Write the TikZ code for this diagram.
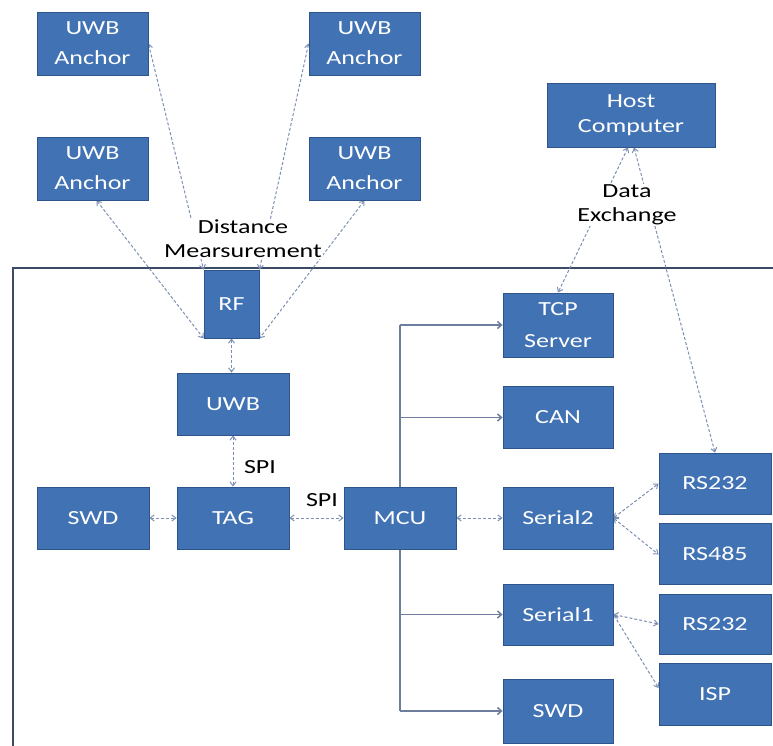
\documentclass[tikz,border=0pt]{standalone}
\usepackage{fontspec}
\newfontfamily\cf[FakeStretch=1.3]{Carlito}
\usetikzlibrary{arrows.meta,backgrounds,calc}
\definecolor{boxblue}{RGB}{64,114,180}
\definecolor{boxedge}{RGB}{45,85,140}
\definecolor{conn}{RGB}{125,144,180}
\definecolor{busc}{RGB}{110,125,155}
\definecolor{framec}{RGB}{60,75,100}
\begin{document}
\begin{tikzpicture}[x=1pt,y=-1pt,
 blk/.style={draw=boxedge,line width=0.8pt,fill=boxblue,text=white,inner sep=0pt,align=center,font=\cf\fontsize{20}{30}\selectfont},
 wh/.style 2 args={minimum width=#1pt,minimum height=#2pt},
 lbl/.style={fill=white,inner sep=1pt,align=center,text=black,font=\cf\fontsize{20}{24}\selectfont},
 dl/.style={conn,line width=1pt,dash pattern=on 3pt off 2pt,{Straight Barb[length=4pt,width=6pt]}-{Straight Barb[length=4pt,width=6pt]}},
 bl/.style={busc,line width=1.5pt},
 ba/.style={bl,-{Straight Barb[length=4pt,width=7pt]}}]
\useasboundingbox (0,0) rectangle (773,746);

% anchors
\node[blk,wh={111}{63}] (A1) at (92.5,43.5) {UWB\\Anchor};
\node[blk,wh={111}{63}] (A2) at (364.5,43.5) {UWB\\Anchor};
\node[blk,wh={111}{63}] (A3) at (92.5,168.5) {UWB\\Anchor};
\node[blk,wh={111}{63}] (A4) at (364.5,168.5) {UWB\\Anchor};
\node[blk,wh={168}{64},font=\cf\fontsize{20}{25}\selectfont] (H) at (631,115) {Host\\Computer};

% tag side
\node[blk,wh={55}{68}] (RF) at (231.5,304) {RF};
\node[blk,wh={112}{62}] (UWB) at (233,404) {UWB};
\node[blk,wh={112}{62}] (TAG) at (233,518) {TAG};
\node[blk,wh={112}{62}] (SWDL) at (93,518) {SWD};
\node[blk,wh={112}{62}] (MCU) at (400,518) {MCU};

% right column
\node[blk,wh={110}{64},font=\cf\fontsize{20}{32}\selectfont] (TCP) at (558,325) {TCP\\Server};
\node[blk,wh={110}{62}] (CAN) at (558,417.5) {CAN};
\node[blk,wh={110}{62}] (S2) at (558,518) {Serial2};
\node[blk,wh={110}{61}] (S1) at (558,614.5) {Serial1};
\node[blk,wh={110}{64}] (SWDR) at (558,711) {SWD};

\node[blk,wh={112}{61}] (R1) at (715,483.5) {RS232};
\node[blk,wh={112}{61}] (R4) at (715,553.5) {RS485};
\node[blk,wh={112}{60}] (R2) at (715,624) {RS232};
\node[blk,wh={112}{62}] (ISP) at (715,694) {ISP};

\begin{scope}[on background layer]
  \fill[white] (0,0) rectangle (773,746);
  \draw[framec,line width=1.8pt] (13,746) -- (13,268) -- (773,268);
  % bus
  \coordinate (bt) at (MCU.center |- TCP.west);
  \coordinate (bb) at (MCU.center |- SWDR.west);
  \draw[bl] (bt) -- (bb);
  \draw[ba] (bt) -- (TCP.west);
  \draw[ba] (MCU.center |- CAN.west) -- (CAN.west);
  \draw[ba] (MCU.center |- S1.west) -- (S1.west);
  \draw[ba] (bb) -- (SWDR.west);
  % dashed links
  \draw[dl] (RF.south) -- (RF.south |- UWB.north);
  \draw[dl] (UWB.south) -- (TAG.north);
  \draw[dl] (SWDL.east) -- (TAG.west);
  \draw[dl] (TAG.east) -- (MCU.west);
  \draw[dl] (MCU.east) -- (S2.west);
  \draw[dl] (S2.east) -- (R1.west);
  \draw[dl] (S2.east) -- ([yshift=-1pt]R4.west);
  \draw[dl] (S1.east) -- (R2.west);
  \draw[dl] (S1.east) -- ([yshift=6pt]ISP.west);
  \draw[dl] (A1.east) -- (RF.north west);
  \draw[dl] (A2.west) -- (RF.north east);
  \draw[dl] ([xshift=4pt]A3.south) -- (RF.south west);
  \draw[dl] (A4.south) -- (RF.south east);
  \draw[dl] ([xshift=-3pt]H.south) -- (TCP.north);
  \draw[dl] ([xshift=3pt]H.south) -- (R1.north);
\end{scope}

% labels
\node[lbl] (dm) at (243,239) {Distance\\Mearsurement};
\node[lbl] (de) at (627,205) {Data\\Exchange};
\node[lbl,fill=none] (spi1) at (260,467) {SPI};
\node[lbl,fill=none] (spi2) at (322,500) {SPI};
\end{tikzpicture}
\end{document}
